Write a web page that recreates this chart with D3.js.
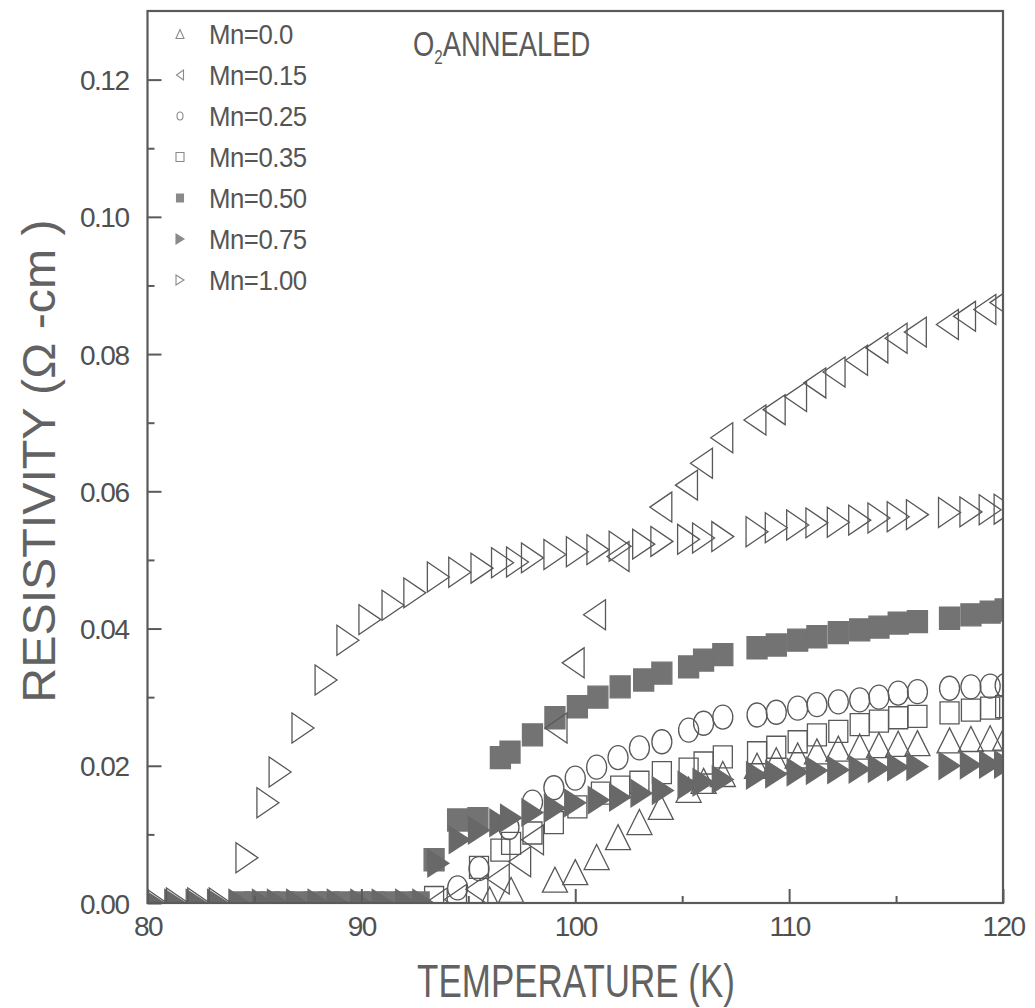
<!DOCTYPE html>
<html>
<head>
<meta charset="utf-8">
<script src="https://cdn.jsdelivr.net/npm/d3@7"></script>
<style>
  body { margin: 0; background: #fff; }
  text { font-family: "Liberation Sans", Arial, sans-serif; fill: #505050; }
</style>
</head>
<body>
<svg id="chart" width="1035" height="1008"></svg>
<script>
// Resistivity vs temperature, O2 annealed samples, [T (K), rho (ohm-cm)]
const seriesLabels = ["Mn=0.0", "Mn=0.15", "Mn=0.25", "Mn=0.35", "Mn=0.50", "Mn=0.75", "Mn=1.00"];

const mn000 = [[96.0,0.0005],[97.0,0.0019],[99.05,0.0034],[100.0,0.0045],[101.0,0.0067],[102.0,0.0096],
  [103.0,0.0118],[104.0,0.0140],[105.3,0.0165],[106.0,0.0178],[106.9,0.0188],[108.5,0.0200],[109.4,0.0208],
  [110.4,0.0215],[111.3,0.0221],[112.3,0.0225],[113.3,0.0228],[114.2,0.0230],[115.1,0.0232],[116.0,0.0233],
  [117.5,0.0237],[118.5,0.0239],[119.4,0.0240],[120.1,0.0241]];

const mn015 = [[93.5,0.0],[94.4,0.0005],[95.4,0.0020],[96.4,0.0035],[97.4,0.0060],[98.0,0.0092],[99.1,0.0255],
  [99.9,0.0350],[100.9,0.0420],[102.0,0.0505],[104.0,0.0577],[105.2,0.0609],[105.9,0.0641],[106.85,0.0678],
  [108.4,0.0704],[109.3,0.0719],[110.3,0.0738],[111.2,0.0758],[112.1,0.0774],[113.15,0.0791],[114.1,0.0809],
  [115.0,0.0823],[115.9,0.0832],[117.4,0.0843],[118.2,0.0855],[119.15,0.0865],[119.9,0.0875]];

const mn025 = [[94.5,0.0022],[95.5,0.0050],[96.9,0.0110],[98.0,0.0147],[99.0,0.0168],[100.0,0.0182],[101.0,0.0198],
  [102.0,0.0212],[103.0,0.0226],[104.05,0.0235],[105.3,0.0252],[106.0,0.0262],[106.9,0.0271],[108.5,0.0274],
  [109.4,0.0278],[110.4,0.0284],[111.3,0.0289],[112.3,0.0293],[113.3,0.0296],[114.2,0.0300],[115.1,0.0306],
  [116.0,0.0308],[117.5,0.0313],[118.5,0.0315],[119.4,0.0316],[120.1,0.0317]];

const mn035 = [[93.4,0.0008],[95.5,0.0052],[96.5,0.0077],[97.0,0.0087],[98.0,0.0102],[99.0,0.0117],[100.1,0.0140],
  [101.2,0.0160],[102.1,0.0169],[103.0,0.0176],[104.05,0.0190],[105.3,0.0195],[106.0,0.0204],[106.9,0.0213],
  [108.5,0.0219],[109.4,0.0227],[110.4,0.0235],[111.3,0.0245],[112.3,0.0250],[113.3,0.0260],[114.2,0.0265],
  [115.1,0.0270],[116.0,0.0272],[117.5,0.0277],[118.5,0.0281],[119.4,0.0284],[120.1,0.0286]];

const mn050 = [[84.3,0],[85.0,0],[85.7,0],[86.4,0],[87.1,0],[87.8,0],[88.5,0],[89.2,0],[89.9,0],[90.6,0],
  [91.3,0],[92.0,0],[92.7,0],[93.4,0.0063],[94.5,0.0121],[95.45,0.0123],[96.5,0.0212],[96.95,0.0220],
  [98.0,0.0245],[99.05,0.0270],[100.1,0.0286],[101.06,0.0300],[102.1,0.0315],[103.2,0.0325],[104.05,0.0335],
  [105.3,0.0344],[106.0,0.0354],[106.9,0.0362],[108.5,0.0372],[109.4,0.0376],[110.4,0.0383],[111.3,0.0388],
  [112.3,0.0394],[113.3,0.0398],[114.2,0.0402],[115.1,0.0408],[116.0,0.0410],[117.5,0.0415],[118.5,0.0420],
  [119.4,0.0424],[120.1,0.0427]];

const mn075 = [[80.3,0],[81.3,0],[82.3,0],[83.3,0],[84.3,0],[85.4,0],[86.1,0],[87.0,0],[88.0,0],[88.9,0],
  [90.0,0],[91.0,0],[92.1,0],[92.9,0],[93.6,0.0058],[94.6,0.0092],[95.5,0.0106],[96.5,0.0117],[97.0,0.0124],
  [98.0,0.0132],[99.05,0.0138],[100.0,0.0146],[101.1,0.0150],[102.1,0.0154],[103.1,0.0160],[104.1,0.0164],
  [105.3,0.0172],[106.0,0.0176],[106.9,0.0180],[108.5,0.0186],[109.4,0.0188],[110.4,0.0191],[111.3,0.0193],
  [112.3,0.0194],[113.3,0.0195],[114.2,0.0196],[115.1,0.0198],[116.0,0.0199],[117.5,0.0200],[118.5,0.0201],
  [119.4,0.0202],[120.1,0.0202]];

const mn100 = [[80.4,0],[81.4,0],[82.4,0],[83.4,0],[84.65,0.0066],[85.63,0.0146],[86.2,0.0191],[87.27,0.0255],
  [88.35,0.0325],[89.37,0.0383],[90.4,0.0413],[91.48,0.0434],[92.5,0.0452],[93.6,0.0475],[94.6,0.0482],
  [95.64,0.0488],[96.6,0.0496],[97.3,0.0497],[98.0,0.0503],[99.05,0.0508],[100.1,0.0512],[101.06,0.0515],
  [102.1,0.0520],[103.2,0.0523],[104.05,0.0527],[105.3,0.0530],[106.0,0.0532],[106.9,0.0534],[108.5,0.0541],
  [109.4,0.0547],[110.4,0.0551],[111.3,0.0554],[112.3,0.0555],[113.3,0.0558],[114.2,0.0561],[115.1,0.0563],
  [116.0,0.0566],[117.5,0.0569],[118.5,0.0570],[119.4,0.0573],[120.1,0.0574]];

const xTicks = [80, 90, 100, 110, 120];
const xMinorTicks = [85, 95, 105, 115];
const yTicks = [0.00, 0.02, 0.04, 0.06, 0.08, 0.10, 0.12];
const yMinorTicks = [0.01, 0.03, 0.05, 0.07, 0.09, 0.11];

// ---- marker shapes (centred on 0,0) ----
const shapes = {
  triUp:    (w, h) => `M0,${-h/2}L${w/2},${h/2}L${-w/2},${h/2}Z`,
  triLeft:  (w, h) => `M${-w/2},0L${w/2},${-h/2}L${w/2},${h/2}Z`,
  triRight: (w, h) => `M${w/2},0L${-w/2},${-h/2}L${-w/2},${h/2}Z`,
  ellipse:  (w, h) => `M${-w/2},0A${w/2},${h/2} 0 1,0 ${w/2},0A${w/2},${h/2} 0 1,0 ${-w/2},0Z`,
  rect:     (w, h) => `M${-w/2},${-h/2}H${w/2}V${h/2}H${-w/2}Z`
};

// drawing order: open marks first, filled on top, Mn=0.15 over the squares
const series = [
  { label: seriesLabels[0], data: mn000, shape: "triUp",    w: 25, h: 25, fill: "none",    lw: 8, lh: 9 },
  { label: seriesLabels[2], data: mn025, shape: "ellipse",  w: 20, h: 24, fill: "none",    lw: 6, lh: 8 },
  { label: seriesLabels[3], data: mn035, shape: "rect",     w: 19, h: 22, fill: "none",    lw: 8, lh: 9 },
  { label: seriesLabels[4], data: mn050, shape: "rect",     w: 20, h: 22, fill: "#737373", lw: 7, lh: 8 },
  { label: seriesLabels[1], data: mn015, shape: "triLeft",  w: 22, h: 30, fill: "none",    lw: 7, lh: 10 },
  { label: seriesLabels[5], data: mn075, shape: "triRight", w: 21, h: 27, fill: "#686868", lw: 8, lh: 10 },
  { label: seriesLabels[6], data: mn100, shape: "triRight", w: 22, h: 30, fill: "none",    lw: 8, lh: 10 }
];

const svg = d3.select("#chart");
const plot = { left: 147.5, right: 1003, top: 11, bottom: 903 };

const x = d3.scaleLinear().domain([80, 120]).range([plot.left, plot.right]);
const y = d3.scaleLinear().domain([0, 0.13]).range([plot.bottom, plot.top]);

svg.append("defs").append("clipPath").attr("id", "plotClip")
  .append("rect")
  .attr("x", plot.left).attr("y", plot.top)
  .attr("width", plot.right - plot.left).attr("height", plot.bottom - plot.top);

// ---- data markers ----
const marks = svg.append("g").attr("clip-path", "url(#plotClip)");
series.forEach(s => {
  marks.append("g")
    .selectAll("path")
    .data(s.data)
    .join("path")
    .attr("transform", d => `translate(${x(d[0])},${y(d[1])})`)
    .attr("d", shapes[s.shape](s.w, s.h))
    .attr("fill", s.fill)
    .attr("stroke", s.fill === "none" ? "#585858" : s.fill)
    .attr("stroke-width", 1.3);
});

// ---- frame ----
svg.append("rect")
  .attr("x", plot.left).attr("y", plot.top)
  .attr("width", plot.right - plot.left).attr("height", plot.bottom - plot.top)
  .attr("fill", "none").attr("stroke", "#5a5a5a").attr("stroke-width", 2.2);

// ---- axes with inward ticks ----
const fmtY = d3.format(".2f");
const xAxis = svg.append("g").attr("transform", `translate(0,${plot.bottom})`)
  .call(d3.axisBottom(x).tickValues(xTicks).tickSize(-14).tickPadding(13).tickFormat(d3.format("d")));
const xMinor = svg.append("g").attr("transform", `translate(0,${plot.bottom})`)
  .call(d3.axisBottom(x).tickValues(xMinorTicks).tickSize(-7).tickFormat(""));
const yAxis = svg.append("g").attr("transform", `translate(${plot.left},0)`)
  .call(d3.axisLeft(y).tickValues(yTicks).tickSize(-14).tickPadding(19).tickFormat(fmtY));
const yMinor = svg.append("g").attr("transform", `translate(${plot.left},0)`)
  .call(d3.axisLeft(y).tickValues(yMinorTicks).tickSize(-7).tickFormat(""));

[xAxis, xMinor, yAxis, yMinor].forEach(g => {
  g.select(".domain").remove();
  g.selectAll(".tick line").attr("stroke", "#5a5a5a").attr("stroke-width", 2);
  g.selectAll(".tick text")
    .attr("fill", "#555")
    .style("font-family", '"Liberation Sans", Arial, sans-serif')
    .style("font-size", "28px")
    .style("letter-spacing", "-1.5px");
});
yAxis.selectAll(".tick text").attr("dy", "0.36em");

// ---- axis titles ----
svg.append("text")
  .attr("transform", "translate(576,997) scale(0.76,1)")
  .attr("text-anchor", "middle")
  .style("font-size", "46px")
  .style("fill", "#626262")
  .text("TEMPERATURE (K)");

svg.append("text")
  .attr("transform", "translate(55,461) rotate(-90) scale(1.05,1)")
  .attr("text-anchor", "middle")
  .style("font-size", "46px")
  .style("fill", "#626262")
  .text("RESISTIVITY (\u03A9 -cm )");

// ---- annotation ----
const note = svg.append("text")
  .attr("transform", "translate(413,56) scale(0.76,1)")
  .style("font-size", "36px")
  .style("fill", "#5a5a5a");
note.append("tspan").text("O");
note.append("tspan").attr("dy", 8).style("font-size", "20px").text("2");
note.append("tspan").attr("dy", -8).text("ANNEALED");

// ---- legend ----
const legendOrder = [0, 4, 1, 2, 3, 5, 6];  // indices into series, in Mn order
const legend = svg.append("g");
legendOrder.forEach((si, i) => {
  const s = series[si];
  const ly = 34 + i * 41;
  legend.append("path")
    .attr("transform", `translate(180,${ly})`)
    .attr("d", shapes[s.shape](s.lw, s.lh))
    .attr("fill", s.fill === "none" ? "none" : "#8a8a8a")
    .attr("stroke", "#8a8a8a")
    .attr("stroke-width", 1.1);
  legend.append("text")
    .attr("transform", `translate(209,${ly}) scale(0.92,1)`)
    .attr("dy", "0.36em")
    .style("font-size", "28px")
    .style("letter-spacing", "-0.5px")
    .style("fill", "#555")
    .text(s.label);
});
</script>
</body>
</html>
